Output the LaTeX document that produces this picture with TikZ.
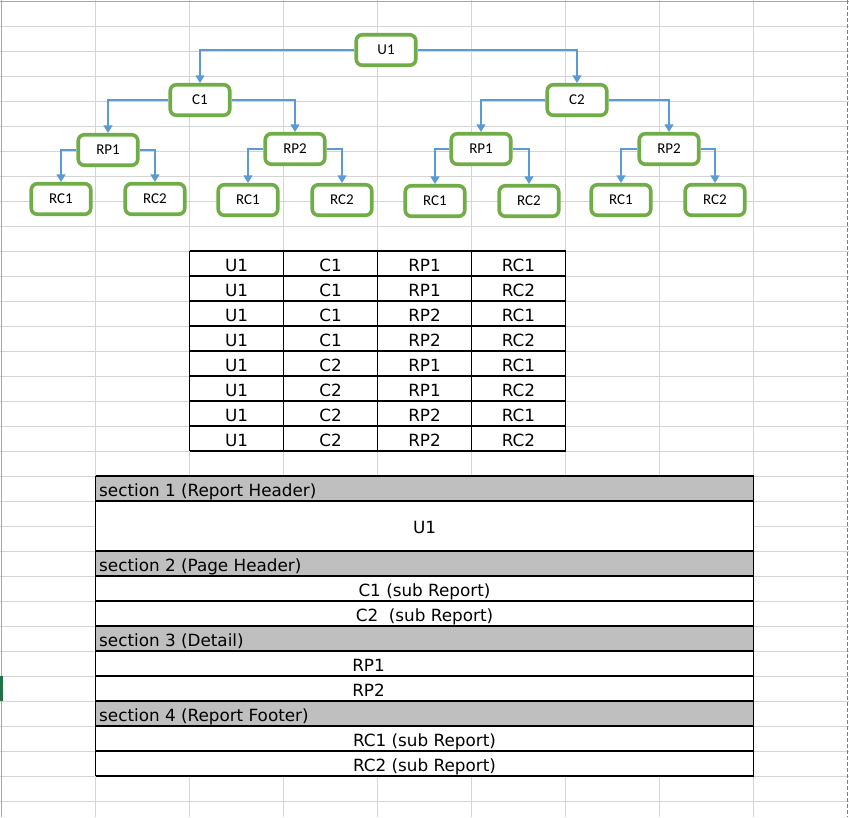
\documentclass[tikz,border=0pt]{standalone}
\usepackage{fontspec}
\setmainfont{Carlito}
\newfontfamily\cellfont{DejaVu Sans}
\usetikzlibrary{arrows.meta, positioning}
\definecolor{boxgreen}{HTML}{70AD47}
\definecolor{linkblue}{HTML}{5B9BD5}
\definecolor{gridgray}{HTML}{D4D4D4}
\definecolor{headgray}{HTML}{BFBFBF}
\definecolor{selgreen}{HTML}{217346}

\begin{document}
\begin{tikzpicture}[x=1pt, y=-1pt,
        member/.style={draw=boxgreen, line width=3.6pt, rounded corners=6pt, fill=white,
            minimum width=59.5pt, minimum height=30.5pt, inner sep=0pt,
            font=\fontsize{15}{16}\selectfont},
        link/.style={draw=linkblue, line width=1.2pt, -{Triangle[width=9pt, length=7.5pt]}},
        cell/.style={anchor=base, inner sep=0pt, font=\cellfont\fontsize{16.8}{18}\selectfont},
        rule/.style={line width=1.2pt}]
        \useasboundingbox (0,0) rectangle (849,817);
        \fill[white] (0,0) rectangle (849,817);
        \foreach \gx in {95.5,189.5,283.5,377.5,471.5,565.5,659.5,753.5}
            \draw[gridgray, line width=1pt] (\gx,0) -- (\gx,817);
        \foreach \gy in {26,51,...,801}
            \draw[gridgray, line width=1pt] (0,\gy) -- (849,\gy);
        \draw[gray!70, line width=1pt] (1,0) -- (1,817);
        \draw[gray!70, line width=1pt] (0,1) -- (849,1);
        \draw[gray, line width=1pt, dash pattern=on 4pt off 2pt] (847.5,0) -- (847.5,817);
        \fill[selgreen] (0,676) rectangle (2.5,701);

        \node[member] (u1) at (386,50) {U1};
        \node[member] (c1) at (200,100) {C1};
        \node[member] (c2) at (577,100) {C2};
        \node[member] (c1p1) at (108,150) {RP1};
        \node[member] (c1p2) at (295,149) {RP2};
        \node[member] (c2p1) at (481,149) {RP1};
        \node[member] (c2p2) at (669,149) {RP2};
        \node[member] (c1p1a) at (61,199) {RC1};
        \node[member] (c1p1b) at (155,199) {RC2};
        \node[member] (c1p2a) at (248,200) {RC1};
        \node[member] (c1p2b) at (342,200) {RC2};
        \node[member] (c2p1a) at (435,201) {RC1};
        \node[member] (c2p1b) at (529,201) {RC2};
        \node[member] (c2p2a) at (621,200) {RC1};
        \node[member] (c2p2b) at (715,200) {RC2};

        \draw[link] (u1.west) -| (c1.north);
        \draw[link] (u1.east) -| (c2.north);
        \draw[link] (c1.west) -| (c1p1.north);
        \draw[link] (c1.east) -| (c1p2.north);
        \draw[link] (c2.west) -| (c2p1.north);
        \draw[link] (c2.east) -| (c2p2.north);
        \foreach \p in {c1p1, c1p2, c2p1, c2p2} {
            \draw[link] (\p.west) -| (\p a.north);
            \draw[link] (\p.east) -| (\p b.north);
        }

        \foreach \b/\c/\d [count=\r] in {C1/RP1/RC1, C1/RP1/RC2, C1/RP2/RC1, C1/RP2/RC2,
                C2/RP1/RC1, C2/RP1/RC2, C2/RP2/RC1, C2/RP2/RC2} {
            \node[cell] (row\r a) at (236.5,246+25*\r) {U1};
            \node[cell] (row\r b) at (330.5,246+25*\r) {\b};
            \node[cell] (row\r c) at (424.5,246+25*\r) {\c};
            \node[cell] (row\r d) at (518.5,246+25*\r) {\d};
        }
        \foreach \ty in {251,276,...,451}
            \draw[rule] (189.5,\ty) -- (565.5,\ty);
        \foreach \tx in {189.5,283.5,377.5,471.5,565.5}
            \draw[rule] (\tx,251) -- (\tx,451);

        \fill[white] (95.5,476) rectangle (753.5,776);
        \foreach \sy in {476,551,626,701}
            \fill[headgray] (95.5,\sy) rectangle (753.5,\sy+25);
        \foreach \sy in {476,501,551,576,601,626,651,676,701,726,751,776}
            \draw[rule] (95.5,\sy) -- (753.5,\sy);
        \draw[rule] (95.5,476) -- (95.5,776);
        \draw[rule] (753.5,476) -- (753.5,776);

        \node[cell, anchor=base west] (sec1) at (99,496.5) {section 1 (Report Header)};
        \node[cell] (secu1) at (424.5,533) {U1};
        \node[cell, anchor=base west] (sec2) at (99,571.5) {section 2 (Page Header)};
        \node[cell] (secc1) at (424.5,596.5) {C1 (sub Report)};
        \node[cell] (secc2) at (424.5,621.5) {C2\ \ (sub Report)};
        \node[cell, anchor=base west] (sec3) at (99,646.5) {section 3 (Detail)};
        \node[cell] (secp1) at (368.5,671.5) {RP1};
        \node[cell] (secp2) at (368.5,696.5) {RP2};
        \node[cell, anchor=base west] (sec4) at (99,721.5) {section 4 (Report Footer)};
        \node[cell] (secr1) at (424.5,746.5) {RC1 (sub Report)};
        \node[cell] (secr2) at (424.5,771.5) {RC2 (sub Report)};
\end{tikzpicture}
\end{document}
